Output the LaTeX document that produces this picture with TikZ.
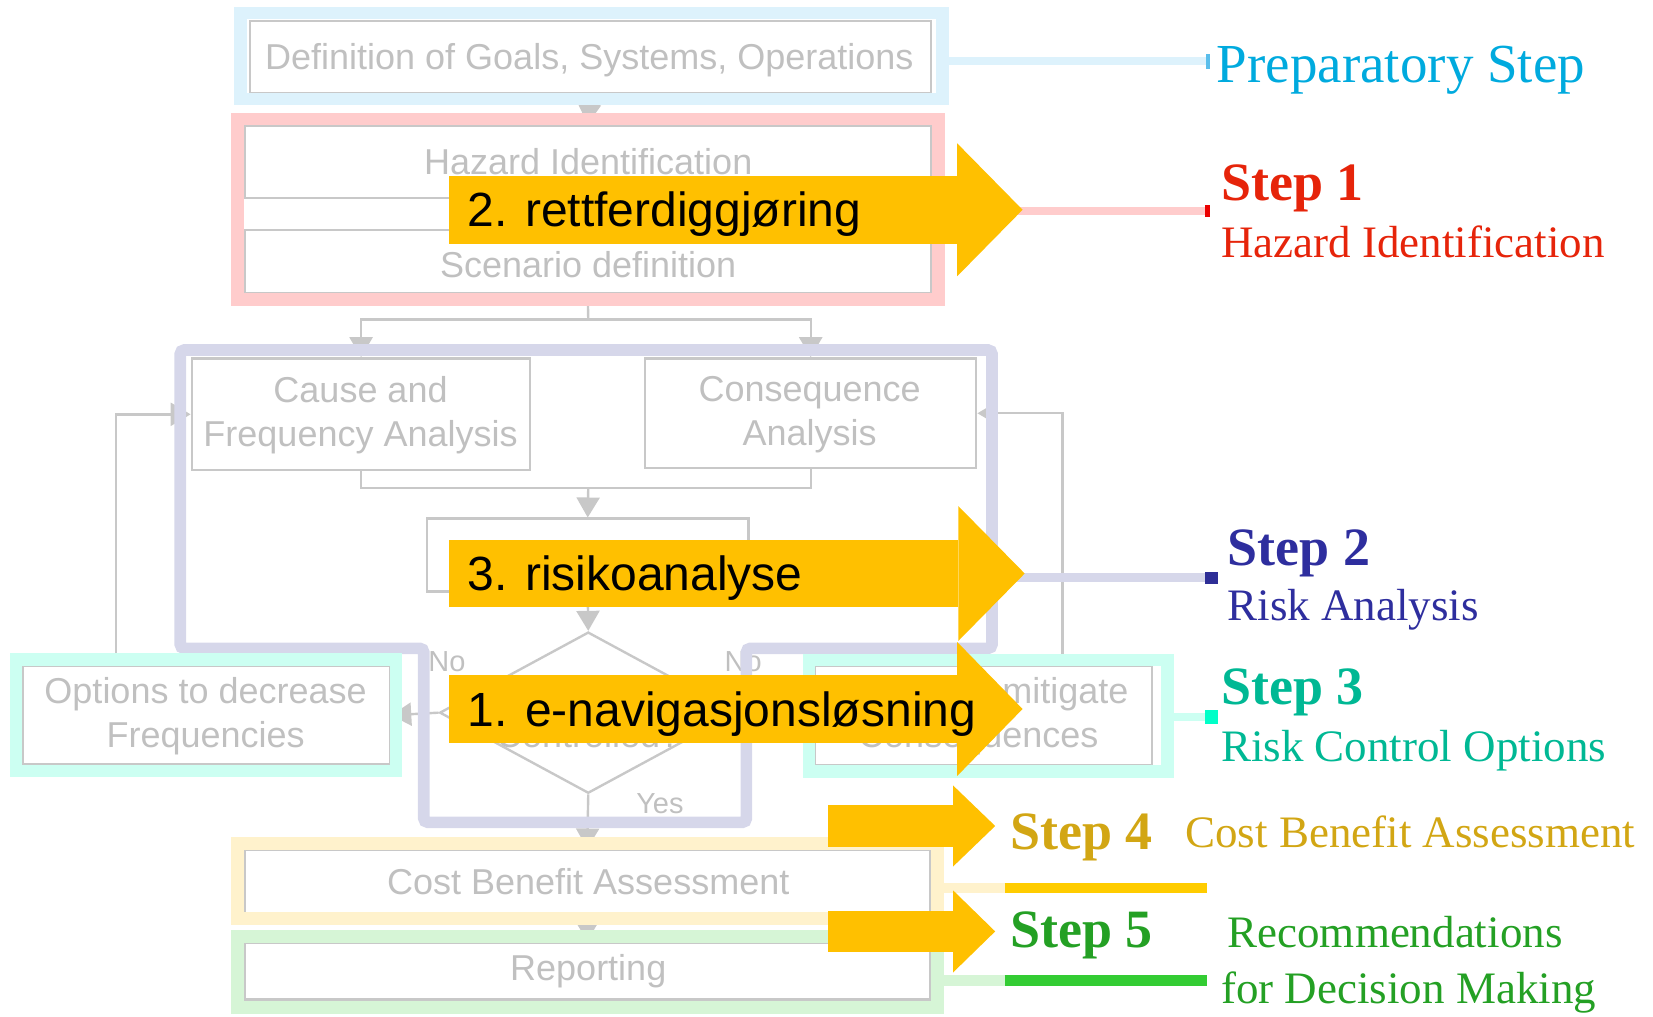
\documentclass[tikz,border=0pt]{standalone}
\usepackage{fontspec}
\setmainfont{Liberation Serif}
\setsansfont{Liberation Sans}
\usetikzlibrary{fit,shapes.geometric,arrows.meta}

% flowchart greys
\definecolor{boxgray}{RGB}{200,200,200}
\definecolor{txtgray}{RGB}{192,192,192}
% step bands
\definecolor{bluefr}{RGB}{221,242,252}
\definecolor{redfr}{RGB}{255,204,204}
\definecolor{purfr}{RGB}{214,215,234}
\definecolor{cyanfr}{RGB}{204,255,242}
\definecolor{yelfr}{RGB}{255,242,204}
\definecolor{grnfr}{RGB}{214,245,214}
% step labels
\definecolor{prepc}{RGB}{0,170,222}
\definecolor{sonec}{RGB}{230,36,10}
\definecolor{stwoc}{RGB}{46,46,158}
\definecolor{sthreec}{RGB}{0,184,148}
\definecolor{sfourc}{RGB}{210,166,20}
\definecolor{sfivec}{RGB}{36,160,36}
% end marks and strong lines
\definecolor{tickB}{RGB}{90,190,235}
\definecolor{tickR}{RGB}{235,0,0}
\definecolor{tickP}{RGB}{46,46,150}
\definecolor{tickC}{RGB}{0,255,200}
\definecolor{lineY}{RGB}{255,204,0}
\definecolor{lineG}{RGB}{51,204,51}
\definecolor{arrowy}{RGB}{255,192,0}

\begin{document}
\begin{tikzpicture}[x=0.5271pt,y=-0.5271pt,
  box/.style={draw=boxgray,line width=1.2pt,inner sep=0pt},
  boxtext/.style={font=\sffamily\fontsize{18}{22}\selectfont,text=txtgray,align=center,inner sep=0pt},
  tagtext/.style={font=\sffamily\fontsize{14.5}{17}\selectfont,text=txtgray,inner sep=0pt},
  flowline/.style={draw=boxgray,line width=1.2pt},
  flow/.style={flowline,-{Triangle[width=11.5pt,length=10pt]}},
  band/.style={draw=#1,line width=6.3pt,inner sep=0pt},
  link/.style={draw=#1,line width=4.3pt},
  callout/.style={fill=arrowy,inner sep=0pt,outer sep=0pt},
  callouttext/.style={font=\sffamily\fontsize{24}{28}\selectfont,text=black,anchor=base west,inner sep=0pt},
  stepname/.style={font=\bfseries\fontsize{27}{32}\selectfont,text=#1,anchor=base west,inner sep=0pt},
  stepdesc/.style={font=\fontsize{22.5}{27}\selectfont,text=#1,anchor=base west,inner sep=0pt}
]
\useasboundingbox (0,0) rectangle (1568,964);

% ---------- FSA flowchart (grey) ----------
\node[box,fit={(237,20)(883,88)}] (defbox) {};
\node[box,fit={(232,119)(883,188)}] (haz) {};
\node[box,fit={(232,218)(883,278)}] (scen) {};
\node[box,fit={(182,340)(503,446)}] (cause) {};
\node[box,fit={(612,340)(926,444)}] (conseq) {};
\node[box,fit={(405,492)(710,561)}] (risk) {};
\node[diamond,draw=boxgray,line width=1.2pt,inner sep=0pt,
      minimum width=148.6pt,minimum height=80.6pt] (dia) at (558,676) {};
\node[box,fit={(22,632)(370,725)}] (optL) {};
\node[box,fit={(773,632)(1093,726)}] (optR) {};
\node[box,fit={(232,806)(882,866)}] (cba) {};
\node[box,fit={(232,894)(882,948)}] (rep) {};

\node[boxtext] (defboxt) at (559,57) {Definition of Goals, Systems, Operations};
\node[boxtext] (hazt) at (558,153) {Hazard Identification};
\node[boxtext] (scent) at (558,251) {Scenario definition};
\node[boxtext] (causet) at (342,394) {Cause and\\Frequency Analysis};
\node[boxtext] (conseqt) at (768,393) {Consequence\\Analysis};
\node[boxtext,anchor=base] (diatxt) at (558,709) {Controlled?};
\node[boxtext] (optLt) at (195,679) {Options to decrease\\Frequencies};
\node[boxtext] (optRt) at (928,679) {Options to mitigate\\Consequences};
\node[boxtext] (cbat) at (558,836) {Cost Benefit Assessment};
\node[boxtext] (rept) at (558,921) {Reporting};

\coordinate (split) at (558,303);
\coordinate (merge) at (558,463);
\coordinate (fbL) at (110,393);
\coordinate (fbR) at (1008,392);

\draw[flow] (defbox.south) -- (haz.north);
\draw[flowline] (scen.south) -- (split);
\draw[flow] (split) -| (cause.north);
\draw[flow] (split) -| (conseq.north);
\draw[flowline] (cause.south) |- (merge) -| (conseq.south);
\draw[flow] (merge) -- (risk.north);
\draw[flow] (risk.south) -- (dia.north);
\draw[flow] (dia.west) -- (optL.east);
\draw[flow] (dia.east) -- (optR.west);
\draw[flow] (dia.south) -- (cba.north);
\draw[flow] (cba.south) -- (rep.north);
\draw[flow] (optL.north -| fbL) |- (cause.west);
\draw[flow] (optR.north -| fbR) |- (conseq.east);

\node[tagtext] (noL) at (424,628) {No};
\node[tagtext] (noR) at (705,628) {No};
\node[tagtext] (yes) at (626,762) {Yes};

% ---------- step bands ----------
\node[band=bluefr,fit={(228,12.5)(894,94)}] (prepfr) {};
\node[band=redfr,fit={(225,113)(890,284)}] (hazfr) {};
\draw[draw=purfr,line width=5.8pt,rounded corners=2pt]
  (171,332) -- (941,332) -- (941,615) -- (708,615) -- (708,780)
  -- (402,780) -- (402,615) -- (171,615) -- cycle;
\coordinate (purout) at (941,548);
\node[band=cyanfr,fit={(15,625.5)(375.5,731.5)}] (cfL) {};
\node[band=cyanfr,fit={(767.5,626)(1107.5,732)}] (cfR) {};
\node[band=yelfr,fit={(225,800)(889,871.5)}] (cbafr) {};
\node[band=grnfr,fit={(225,888.5)(889,955.5)}] (repfr) {};

% ---------- leads to the step labels ----------
\coordinate (tkB) at (1146,58);
\coordinate (tkA) at (1145,200);
\coordinate (tkP) at (1146,548);
\coordinate (tkC) at (1146,680);
\coordinate (bendY) at (953,842);
\coordinate (tkY) at (1145,842);
\coordinate (bendG) at (953,930);
\coordinate (tkG) at (1145,930);

\draw[link=bluefr] (prepfr.east |- tkB) -- (tkB);
\draw[link=redfr] (hazfr.east |- tkA) -- (tkA);
\draw[link=purfr] (purout) -- (tkP);
\draw[link=cyanfr] (cfR.east |- tkC) -- (tkC);
\draw[link=yelfr,line width=5pt] (cbafr.east |- bendY) -- (bendY);
\draw[link=lineY,line width=5pt] (bendY) -- (tkY);
\draw[link=grnfr,line width=5.3pt] (repfr.east |- bendG) -- (bendG);
\draw[link=lineG,line width=5.3pt] (bendG) -- (tkG);

\fill[tickB] (tkB) ++(-2,-7) rectangle ++(4,14);
\fill[tickR] (tkA) ++(-2,-6) rectangle ++(5,12);
\fill[tickP] (tkP) ++(-3,-5.5) rectangle ++(12,11);
\fill[tickC] (tkC) ++(-3,-7) rectangle ++(12,14);

% ---------- yellow callout arrows ----------
\node[callout,fit={(426,167)(908,231)}] (ctwo) {};
\fill[arrowy] (ctwo.east) +(0,-63) -- +(62,0) -- +(0,63) -- cycle;
\node[callouttext] (ttwo) at (443,215) {2. rettferdiggjøring};

\node[callout,fit={(426,512)(909,576)}] (cthree) {};
\fill[arrowy] (cthree.east) +(0,-64) -- +(63,0) -- +(0,64) -- cycle;
\node[callouttext] (tthree) at (443,560) {3. risikoanalyse};

\node[callout,fit={(426,640)(908,705)}] (cone) {};
\fill[arrowy] (cone.east) +(0,-63.5) -- +(62,0) -- +(0,63.5) -- cycle;
\node[callouttext] (tone) at (443,689) {1. e-navigasjonsløsning};

\node[callout,fit={(785,764)(904,803)}] (cfour) {};
\fill[arrowy] (cfour.east) +(0,-38.5) -- +(40,0) -- +(0,38.5) -- cycle;

\node[callout,fit={(785,864)(904,903)}] (cfive) {};
\fill[arrowy] (cfive.east) +(0,-39) -- +(40,0) -- +(0,39) -- cycle;

% ---------- step labels ----------
\node[stepdesc=prepc,font=\fontsize{27.5}{32}\selectfont] (lprep) at (1154,78) {Preparatory Step};
\node[stepname=sonec] (lone) at (1158,190) {Step 1};
\node[stepdesc=sonec] (lonet) at (1158,244) {Hazard Identification};
\node[stepname=stwoc] (ltwo) at (1164,536) {Step 2};
\node[stepdesc=stwoc] (ltwot) at (1164,589) {Risk Analysis};
\node[stepname=sthreec] (lthree) at (1158,668) {Step 3};
\node[stepdesc=sthreec] (lthreet) at (1158,722) {Risk Control Options};
\node[stepname=sfourc] (lfour) at (958,806) {Step 4};
\node[stepdesc=sfourc] (lfourt) at (1124,804) {Cost Benefit Assessment};
\node[stepname=sfivec] (lfive) at (958,899) {Step 5};
\node[stepdesc=sfivec] (lfivet) at (1164,899) {Recommendations};
\node[stepdesc=sfivec] (lfivett) at (1158,952) {for Decision Making};
\end{tikzpicture}
\end{document}
